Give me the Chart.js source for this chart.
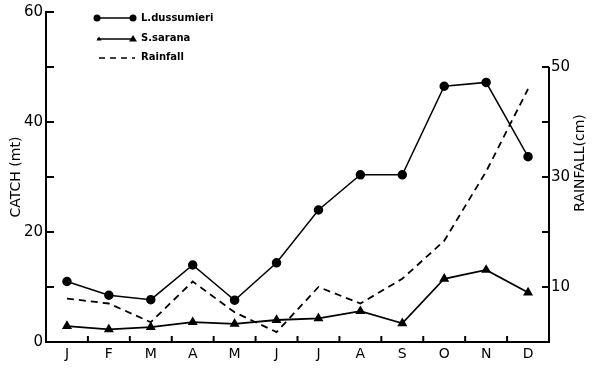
<!DOCTYPE html>
<html>
<head>
<meta charset="utf-8">
<script src="https://cdn.jsdelivr.net/npm/chart.js@4.4.1/dist/chart.umd.min.js"></script>
<style>
  html, body { margin: 0; padding: 0; background: #fff; }
  #wrap { width: 600px; height: 383px; }
</style>
</head>
<body>
<div id="wrap"><canvas id="grafico" width="600" height="383"></canvas></div>
<script>
// dati
const mesi = ['J', 'F', 'M', 'A', 'M', 'J', 'J', 'A', 'S', 'O', 'N', 'D'];
const dussumieri = [11, 8.5, 7.7, 14, 7.6, 14.4, 24, 30.4, 30.4, 46.5, 47.2, 33.7];
const sarana = [2.9, 2.3, 2.7, 3.6, 3.3, 4, 4.3, 5.6, 3.4, 11.5, 13.1, 9];
const pioggia = [7.9, 7, 3.6, 11, 5.4, 1.8, 10, 7, 11.5, 18.4, 31, 46];
const tickCatch = [0, 20, 40, 60];
const tickPioggia = [10, 30, 50];

const FONT = 'DejaVu Sans';

// assi disegnati a mano: tacche interne, asse destro corto, legenda
const extra = {
    id: 'extra',
    afterDraw(chart) {
        const ctx = chart.ctx;
        const { left, right, top, bottom } = chart.chartArea;
        const x = chart.scales.x, y = chart.scales.y, y1 = chart.scales.y1;
        ctx.save();
        ctx.strokeStyle = '#000';
        ctx.fillStyle = '#000';
        ctx.lineWidth = 2;
        function linea(x0, y0, x2, y2) {
            ctx.beginPath(); ctx.moveTo(x0, y0); ctx.lineTo(x2, y2); ctx.stroke();
        }
        for (let v = 10; v <= 60; v += 10) {
            const py = y.getPixelForValue(v);
            linea(left, py, left + 8, py);
        }
        // asse destro fino a 50
        linea(right, bottom, right, y1.getPixelForValue(50));
        for (let v = 10; v <= 50; v += 10) {
            const py = y1.getPixelForValue(v);
            linea(right, py, right - 7, py);
        }
        for (let i = 0; i < mesi.length - 1; i++) {
            const px = (x.getPixelForValue(i) + x.getPixelForValue(i + 1)) / 2;
            linea(px, bottom, px, bottom - 6);
        }

        // titolo asse destro, letto dal basso verso l'alto
        ctx.save();
        ctx.translate(580, 163);
        ctx.rotate(-Math.PI / 2);
        ctx.font = '14px ' + FONT;
        ctx.textAlign = 'center';
        ctx.textBaseline = 'middle';
        ctx.fillText('RAINFALL(cm)', 0, 0);
        ctx.restore();

        // legenda
        const lx0 = 97, lx1 = 133, tx = 141;
        const righe = [18, 39, 58];
        ctx.lineWidth = 1.5;
        linea(lx0, righe[0], lx1, righe[0]);
        [lx0, lx1].forEach(px => {
            ctx.beginPath(); ctx.arc(px, righe[0], 3.5, 0, Math.PI * 2); ctx.fill();
        });
        linea(lx0, righe[1], lx1, righe[1]);
        [[lx0 + 2, 2.5], [lx1, 4]].forEach(([px, r]) => {
            ctx.beginPath();
            ctx.moveTo(px, righe[1] - r);
            ctx.lineTo(px + r, righe[1] + r * 0.6);
            ctx.lineTo(px - r, righe[1] + r * 0.6);
            ctx.closePath(); ctx.fill();
        });
        ctx.setLineDash([6, 5]);
        linea(lx0 + 2, righe[2], lx1 + 2, righe[2]);
        ctx.setLineDash([]);
        ctx.font = 'bold 10px ' + FONT;
        ctx.textBaseline = 'middle';
        ctx.fillText('L.dussumieri', tx, righe[0]);
        ctx.fillText('S.sarana', tx, righe[1] - 1);
        ctx.fillText('Rainfall', tx, righe[2] - 1);
        ctx.restore();
    }
};

new Chart(document.getElementById('grafico'), {
    type: 'line',
    data: {
        labels: mesi,
        datasets: [{
            label: 'L.dussumieri',
            data: dussumieri,
            yAxisID: 'y',
            borderColor: '#000',
            backgroundColor: '#000',
            borderWidth: 1.5,
            pointStyle: 'circle',
            pointRadius: 4,
            tension: 0
        }, {
            label: 'S.sarana',
            data: sarana,
            yAxisID: 'y',
            borderColor: '#000',
            backgroundColor: '#000',
            borderWidth: 1.8,
            pointStyle: 'triangle',
            pointRadius: 4,
            tension: 0
        }, {
            label: 'Rainfall',
            data: pioggia,
            yAxisID: 'y1',
            borderColor: '#000',
            borderWidth: 1.8,
            borderDash: [7, 5],
            pointRadius: 0,
            tension: 0
        }]
    },
    options: {
        responsive: false,
        animation: false,
        devicePixelRatio: 1,
        layout: { padding: { top: 9, right: 0, left: 0, bottom: 0 } },
        plugins: {
            legend: { display: false },
            tooltip: { enabled: false }
        },
        scales: {
            x: {
                offset: true,
                grid: { display: false, drawTicks: false },
                border: { display: true, color: '#000', width: 2 },
                ticks: { color: '#000', font: { family: FONT, size: 14 }, padding: 4 },
                afterFit: s => { s.height = 41; }
            },
            y: {
                position: 'left',
                min: 0,
                max: 60,
                grid: { display: false, drawTicks: false },
                border: { display: true, color: '#000', width: 2 },
                afterBuildTicks: s => { s.ticks = tickCatch.map(v => ({ value: v })); },
                ticks: { color: '#000', font: { family: FONT, size: 15 }, padding: 3 },
                title: {
                    display: true,
                    text: 'CATCH (mt)',
                    color: '#000',
                    font: { family: FONT, size: 14 },
                    padding: { top: 8, bottom: 0 }
                },
                afterFit: s => { s.width = 46; }
            },
            y1: {
                position: 'right',
                min: 0,
                max: 60,
                grid: { display: false, drawTicks: false },
                border: { display: false },
                afterBuildTicks: s => { s.ticks = tickPioggia.map(v => ({ value: v })); },
                ticks: { color: '#000', font: { family: FONT, size: 15 }, padding: 2 },
                afterFit: s => { s.width = 51; }
            }
        }
    },
    plugins: [extra]
});
</script>
</body>
</html>
